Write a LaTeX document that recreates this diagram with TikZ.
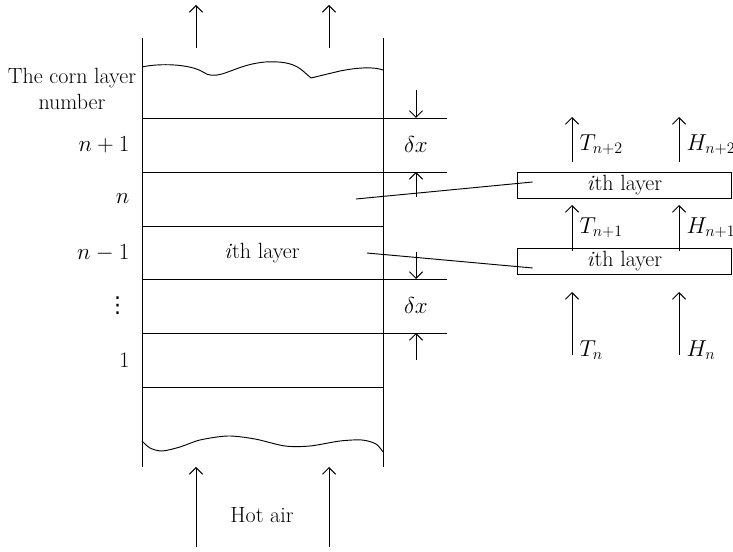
\documentclass[tikz,border=0pt]{standalone}
\usepackage{fontspec}
\newfontfamily\dotsfont{DejaVu Sans}
\usetikzlibrary{arrows.meta,positioning}

\begin{document}
\begin{tikzpicture}[x=0.75pt, y=-0.75pt,
    wall/.style={line width=0.7pt},
    flow/.style={-{Straight Barb[length=5pt, width=10pt]}, line width=0.7pt},
    layerbox/.style={draw, line width=0.7pt, minimum width=161pt, minimum height=20pt,
      inner sep=0pt, font=\fontsize{16.5}{19}\selectfont},
    lbl/.style={inner sep=1pt, font=\fontsize{16.5}{19}\selectfont}
  ]
    \useasboundingbox (0,0) rectangle (733,552);

    % column walls and layers
    \draw[wall] (142,38) -- (142,467);
    \draw[wall] (383,38) -- (383,467);
    \foreach \y in {118,172,226,279,333,387}
      \draw[wall] (142,\y) -- (383,\y);
    \foreach \y in {118,172,279,333}
      \draw[wall] (383,\y) -- (447,\y);

    % corn surface and bottom
    \draw[wall] (142,67) .. controls (160,63) and (190,64) .. (203,72)
      .. controls (208,76) and (215,76) .. (222,74)
      .. controls (235,70) and (245,64) .. (265,62)
      .. controls (285,61) and (295,64) .. (303,71) -- (311,78) -- (340,71)
      .. controls (360,67) and (375,67) .. (383,70);
    \draw[wall] plot[smooth] coordinates {(142,441) (150,448) (162,451) (180,447)
      (200,440) (228,436) (255,439) (285,446) (310,446) (340,441) (362,440)
      (376,444) (383,452)};

    % labels on the left
    \node[lbl, align=center] (title) at (72,89) {The corn layer\\number};
    \node[lbl, anchor=east] (nplus) at (131,145) {$n+1$};
    \node[lbl, anchor=east] (nmid) at (131,199) {$n$};
    \node[lbl, anchor=east] (nminus) at (131,253) {$n-1$};
    \node[lbl, anchor=east, inner sep=0pt] (vdots) at (129,306) {\dotsfont ⋮};
    \node[lbl, anchor=east] (one) at (131,360) {1};
    \node[lbl] (inlayer) at (262,253) {\textit{i}th layer};
    \node[lbl] (hot) at (262,515) {Hot air};

    % air arrows through the column
    \foreach \x/\n in {196/a,329/b} {
      \coordinate (out\n) at (\x,48);
      \coordinate (outtip\n) at (\x,5);
      \draw[flow] (out\n) -- (outtip\n);
      \coordinate (in\n) at (\x,547);
      \coordinate (intip\n) at (\x,467);
      \draw[flow] (in\n) -- (intip\n);
    }

    % layer thickness
    \coordinate (dxa) at (416,90);   \coordinate (dxatip) at (416,118);
    \coordinate (dxb) at (416,197);  \coordinate (dxbtip) at (416,172);
    \coordinate (dxc) at (416,252);  \coordinate (dxctip) at (416,279);
    \coordinate (dxd) at (416,360);  \coordinate (dxdtip) at (416,333);
    \draw[flow] (dxa) -- (dxatip);
    \draw[flow] (dxb) -- (dxbtip);
    \draw[flow] (dxc) -- (dxctip);
    \draw[flow] (dxd) -- (dxdtip);
    \node[lbl] (dxtop) at (416,145) {$\delta x$};
    \node[lbl] (dxbot) at (416,306) {$\delta x$};

    % single layer balance
    \node[layerbox] (upper) at (624.5,185.5) {\textit{i}th layer};
    \node[layerbox] (lower) at (624.5,261.5) {\textit{i}th layer};
    \coordinate (fromn) at (356,199);
    \coordinate (fromi) at (367,253);
    \draw[wall] (fromn) -- ([xshift=12pt]upper.west |- 0,182);
    \draw[wall] (fromi) -- ([xshift=12pt]lower.west |- 0,268);

    \foreach \x/\n in {572/t,679/h} {
      \coordinate (top\n) at (\x,117);
      \draw[flow] (upper.north -| top\n) ++(0,-10) -- (top\n);
      \coordinate (mid\n) at (\x,205);
      \draw[flow] (lower.north -| mid\n) ++(0,3) -- (mid\n);
      \coordinate (low\n) at (\x,292);
      \coordinate (base\n) at (\x,355);
      \draw[flow] (base\n) -- (low\n);
    }
    \node[lbl, anchor=west] (ttop) at (578,145) {$T_{n+2}$};
    \node[lbl, anchor=west] (htop) at (685,145) {$H_{n+2}$};
    \node[lbl, anchor=west] (tmid) at (578,228) {$T_{n+1}$};
    \node[lbl, anchor=west] (hmid) at (685,228) {$H_{n+1}$};
    \node[lbl, anchor=west] (tlow) at (578,350) {$T_n$};
    \node[lbl, anchor=west] (hlow) at (685,350) {$H_n$};
\end{tikzpicture}
\end{document}
